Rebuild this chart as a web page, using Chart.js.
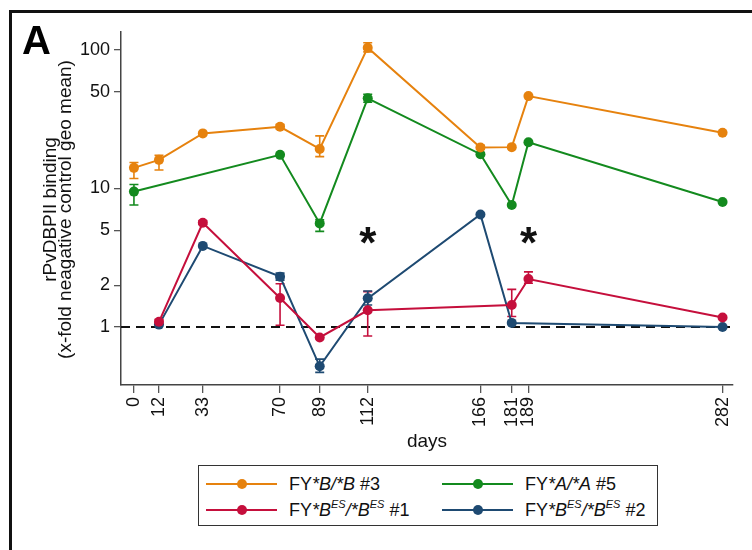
<!DOCTYPE html>
<html>
<head>
<meta charset="utf-8">
<script src="https://cdn.jsdelivr.net/npm/chart.js@4.4.1/dist/chart.umd.min.js"></script>
<style>
  body { margin: 0; background: #fff; font-family: "Liberation Sans", Arial, sans-serif; }
  #wrap { position: relative; width: 752px; height: 550px; }
  #legend { position: absolute; left: 198px; top: 465px; width: 458px; height: 59px;
            border: 1.5px solid #333; background: #fff; }
  .item { position: absolute; height: 24px; width: 220px; }
  .item .ln { position: absolute; left: 0; top: 11px; width: 71px; height: 2px; }
  .item .dot { position: absolute; left: 31px; top: 7px; width: 10px; height: 10px; border-radius: 50%; }
  .item .tx { position: absolute; left: 83px; top: 0; line-height: 24px; font-size: 18px; color: #111; white-space: nowrap; }
  .tx i { font-style: italic; }
  .tx sup { font-size: 11px; font-style: italic; vertical-align: 8px; line-height: 0; }
</style>
</head>
<body>
<div id="wrap">
  <canvas id="chart" width="752" height="550"></canvas>
  <div id="legend">
    <div class="item" style="left:7px;top:6px;">
      <div class="ln" style="background:#e6820e"></div><div class="dot" style="background:#e6820e"></div>
      <div class="tx">FY<i>*B/*B</i> #3</div>
    </div>
    <div class="item" style="left:243px;top:6px;">
      <div class="ln" style="background:#138a1e"></div><div class="dot" style="background:#138a1e"></div>
      <div class="tx">FY<i>*A/*A</i> #5</div>
    </div>
    <div class="item" style="left:7px;top:32px;">
      <div class="ln" style="background:#c50f3c"></div><div class="dot" style="background:#c50f3c"></div>
      <div class="tx">FY<i>*B<sup>ES</sup>/*B<sup>ES</sup></i> #1</div>
    </div>
    <div class="item" style="left:243px;top:32px;">
      <div class="ln" style="background:#1e4a72"></div><div class="dot" style="background:#1e4a72"></div>
      <div class="tx">FY<i>*B<sup>ES</sup>/*B<sup>ES</sup></i> #2</div>
    </div>
  </div>
</div>
<script>
// sampling days (x axis ticks too)
const days = [0, 12, 33, 70, 89, 112, 166, 181, 189, 282];
const yTicks = [1, 2, 5, 10, 50, 100];

// FY*B/*B #3
const orangeVals = [14.1, 16.1, 25.0, 27.9, 19.3, 104, 19.8, 19.9, 46.5, 25.3];
const orangeLo   = [11.8, 13.6, null, 26.9, 17.0, 97, 19.2, null, null, null];
const orangeHi   = [15.4, 17.4, null, 29.0, 24.0, 113, 20.5, null, null, null];
// FY*A/*A #5
const greenVals = [9.5, null, null, 17.5, 5.6, 44.8, 17.7, 7.6, 21.6, 8.0];
const greenLo   = [7.6, null, null, null, 4.9, 42, null, null, null, null];
const greenHi   = [10.7, null, null, null, 5.95, 48, null, null, null, null];
// FY*B^ES/*B^ES #1
const redVals = [null, 1.09, 5.66, 1.62, 0.84, 1.32, null, 1.44, 2.22, 1.17];
const redLo   = [null, 1.04, 5.5, 1.03, null, 0.86, null, 1.19, 2.07, null];
const redHi   = [null, 1.13, 5.85, 2.05, null, 1.8, null, 1.87, 2.5, null];
// FY*B^ES/*B^ES #2
const blueVals = [null, 1.04, 3.85, 2.31, 0.52, 1.61, 6.5, 1.07, null, 1.0];
const blueLo   = [null, null, null, 2.18, 0.47, 1.44, null, null, null, null];
const blueHi   = [null, null, null, 2.45, 0.586, 1.82, null, null, null, null];

// significance markers
const starDays = [112, 189];
const starVals = [4.56, 4.56];
const refLine = 1;

const FONT = '"Liberation Sans", Arial, sans-serif';

function series(label, vals, lo, hi, color) {
    return {
        label: label,
        data: days.map((d, i) => ({ x: d, y: vals[i] })),
        lo: lo,
        hi: hi,
        borderColor: color,
        backgroundColor: color,
        borderWidth: 2,
        pointRadius: 5,
        pointBorderWidth: 0,
        pointBackgroundColor: color,
        spanGaps: true,
        tension: 0
    };
}

const decor = {
    id: 'decor',
    beforeDatasetsDraw(chart) {
        const ctx = chart.ctx;
        const xs = chart.scales.x, ys = chart.scales.y;
        const area = chart.chartArea;
        // dashed reference line
        ctx.save();
        ctx.strokeStyle = '#111';
        ctx.lineWidth = 2;
        ctx.setLineDash([9, 6]);
        const yr = ys.getPixelForValue(refLine);
        ctx.beginPath();
        ctx.moveTo(area.left, yr);
        ctx.lineTo(area.right, yr);
        ctx.stroke();
        ctx.restore();
        // error bars
        chart.data.datasets.forEach(ds => {
            ctx.save();
            ctx.strokeStyle = ds.borderColor;
            ctx.lineWidth = 1.6;
            days.forEach((d, i) => {
                if (ds.lo[i] == null || ds.hi[i] == null) return;
                const x = xs.getPixelForValue(d);
                const y1 = ys.getPixelForValue(ds.lo[i]);
                const y2 = ys.getPixelForValue(ds.hi[i]);
                ctx.beginPath();
                ctx.moveTo(x, y1); ctx.lineTo(x, y2);
                ctx.moveTo(x - 4.5, y1); ctx.lineTo(x + 4.5, y1);
                ctx.moveTo(x - 4.5, y2); ctx.lineTo(x + 4.5, y2);
                ctx.stroke();
            });
            ctx.restore();
        });
    },
    afterDraw(chart) {
        const ctx = chart.ctx;
        const xs = chart.scales.x, ys = chart.scales.y;
        const area = chart.chartArea;
        ctx.save();
        // outer frame
        ctx.strokeStyle = '#111';
        ctx.lineWidth = 3;
        ctx.beginPath();
        ctx.moveTo(10.5, chart.height + 5);
        ctx.lineTo(10.5, 11.5);
        ctx.lineTo(chart.width + 5, 11.5);
        ctx.stroke();
        // panel letter
        ctx.fillStyle = '#000';
        ctx.font = 'bold 40px ' + FONT;
        ctx.textAlign = 'left';
        ctx.textBaseline = 'alphabetic';
        ctx.fillText('A', 22, 54);
        // axis titles
        ctx.fillStyle = '#111';
        ctx.font = '19px ' + FONT;
        ctx.textAlign = 'center';
        ctx.textBaseline = 'middle';
        const cy = (area.top + area.bottom) / 2 + 1;
        [['rPvDBPII binding', 51], ['(x-fold neagative control geo mean)', 66]].forEach(t => {
            ctx.save();
            ctx.translate(t[1], cy);
            ctx.rotate(-Math.PI / 2);
            ctx.fillText(t[0], 0, 0);
            ctx.restore();
        });
        ctx.font = '19px ' + FONT;
        ctx.fillText('days', (area.left + area.right) / 2, 442);
        // asterisks
        ctx.font = 'bold 44px ' + FONT;
        ctx.textBaseline = 'alphabetic';
        starDays.forEach((d, i) => {
            const m = ctx.measureText('*');
            const x = xs.getPixelForValue(d);
            const cyS = ys.getPixelForValue(starVals[i]);
            const y = cyS - (m.actualBoundingBoxDescent - m.actualBoundingBoxAscent) / 2;
            ctx.fillText('*', x, y);
        });
        ctx.restore();
    }
};

const tickFont = { family: FONT, size: 18 };

new Chart(document.getElementById('chart').getContext('2d'), {
    type: 'line',
    data: {
        datasets: [
            series('FY*B/*B #3', orangeVals, orangeLo, orangeHi, '#e6820e'),
            series('FY*A/*A #5', greenVals, greenLo, greenHi, '#138a1e'),
            series('FY*BES/*BES #1', redVals, redLo, redHi, '#c50f3c'),
            series('FY*BES/*BES #2', blueVals, blueLo, blueHi, '#1e4a72')
        ]
    },
    options: {
        responsive: false,
        animation: false,
        layout: { padding: { top: 32, right: 19, left: 0, bottom: 0 } },
        plugins: { legend: { display: false }, tooltip: { enabled: false } },
        scales: {
            x: {
                type: 'linear',
                min: -6.2,
                max: 287,
                afterBuildTicks: s => { s.ticks = days.map(v => ({ value: v })); },
                afterFit: s => { s.height = 165; },
                ticks: {
                    autoSkip: false, minRotation: 90, maxRotation: 90, padding: 4,
                    color: '#111', font: tickFont, callback: v => String(v)
                },
                grid: { drawOnChartArea: false, tickLength: 8, color: '#555', lineWidth: 1.3 },
                border: { color: '#444', width: 1.5 }
            },
            y: {
                type: 'logarithmic',
                min: 0.381,
                max: 135,
                afterBuildTicks: s => { s.ticks = yTicks.map(v => ({ value: v })); },
                afterFit: s => { s.width = 121; },
                ticks: {
                    autoSkip: false, padding: 4, color: '#111', font: tickFont,
                    callback: v => String(v)
                },
                grid: { drawOnChartArea: false, tickLength: 7, color: '#555', lineWidth: 1.3 },
                border: { color: '#444', width: 1.5 }
            }
        }
    },
    plugins: [decor]
});
</script>
</body>
</html>
